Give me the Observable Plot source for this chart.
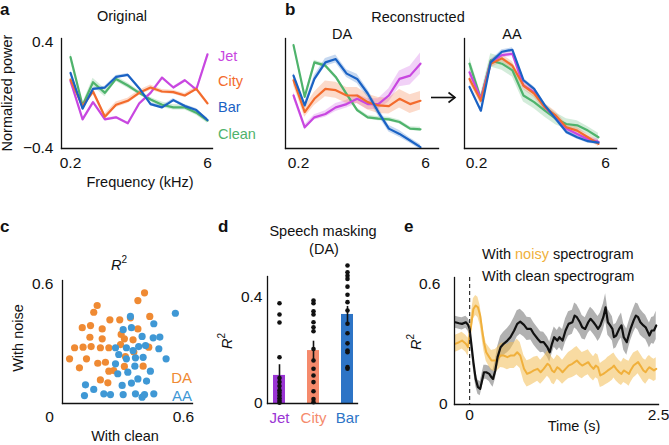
<!DOCTYPE html>
<html><head><meta charset="utf-8">
<script src="https://cdn.jsdelivr.net/npm/d3@7"></script>
<script src="https://cdn.jsdelivr.net/npm/@observablehq/plot@0.6"></script>
<style>
body{margin:0;background:#fff;}
#fig{position:relative;width:669px;height:445px;overflow:hidden;background:#fff;}
</style></head><body><div id="fig"></div>
<script>
const FONT = '"Liberation Sans", Arial, Helvetica, sans-serif';

// ---------- data ----------
const freqKHz = [0.2, 0.27, 0.35, 0.47, 0.62, 0.83, 1.1, 1.46, 1.94, 2.57, 3.42, 4.54, 6];
const freqTicks = [0.2, 6];
const noiseNames = ["Jet", "City", "Bar", "Clean"];
const noiseColors = ["#c847e0", "#f36b2c", "#1a62c4", "#4fb36c"];

// a: original
const origJet   = [0.11, -0.18, -0.05, -0.18, -0.165, -0.21, -0.06, 0.02, 0.135, 0.06, 0.115, 0.045, 0.31];
const origCity  = [0.12, -0.08, 0.03, -0.16, -0.07, -0.04, 0.02, 0.06, 0.03, 0.025, 0.0, 0.05, -0.06];
const origBar   = [0.17, -0.1, 0.05, 0.06, 0.14, 0.155, 0.055, -0.065, -0.09, -0.035, -0.08, -0.11, -0.185];
const origClean = [0.29, -0.075, 0.1, 0.02, 0.125, 0.075, 0.02, -0.03, -0.07, -0.09, -0.09, -0.13, -0.19];
const origJetSem   = [0.008, 0.008, 0.008, 0.008, 0.008, 0.008, 0.008, 0.008, 0.008, 0.008, 0.008, 0.008, 0.01];
const origCitySem  = [0.015, 0.02, 0.02, 0.02, 0.02, 0.02, 0.02, 0.02, 0.015, 0.015, 0.015, 0.015, 0.015];
const origBarSem   = [0.012, 0.01, 0.01, 0.01, 0.01, 0.01, 0.01, 0.012, 0.012, 0.012, 0.012, 0.012, 0.012];
const origCleanSem = [0.03, 0.015, 0.03, 0.03, 0.02, 0.02, 0.015, 0.015, 0.02, 0.02, 0.02, 0.02, 0.02];

// b: reconstructed DA
const daJet   = [0.0, -0.24, -0.165, -0.14, -0.09, -0.065, -0.025, -0.065, -0.065, 0.0, 0.125, 0.15, 0.24];
const daCity  = [0.115, -0.125, -0.025, 0.05, 0.04, 0.0, 0.0, -0.05, -0.075, -0.08, -0.025, -0.065, -0.04];
const daBar   = [0.15, -0.075, 0.125, 0.25, 0.275, 0.165, 0.125, 0.015, -0.125, -0.25, -0.29, -0.34, -0.39];
const daClean = [0.38, -0.01, 0.25, 0.225, 0.14, 0.01, -0.11, -0.165, -0.175, -0.18, -0.2, -0.25, -0.255];
const daJetSem   = [0.025, 0.02, 0.02, 0.025, 0.03, 0.03, 0.035, 0.04, 0.04, 0.05, 0.06, 0.07, 0.08];
const daCitySem  = [0.04, 0.04, 0.05, 0.06, 0.06, 0.06, 0.06, 0.06, 0.06, 0.06, 0.07, 0.07, 0.07];
const daBarSem   = [0.02, 0.02, 0.025, 0.03, 0.03, 0.03, 0.035, 0.03, 0.03, 0.025, 0.025, 0.02, 0.02];
const daCleanSem = [0.015, 0.015, 0.015, 0.015, 0.015, 0.015, 0.015, 0.015, 0.015, 0.015, 0.015, 0.015, 0.015];

// b: reconstructed AA
const aaJet   = [0.175, -0.025, 0.25, 0.305, 0.315, 0.075, 0.025, -0.09, -0.165, -0.25, -0.29, -0.33, -0.35];
const aaCity  = [0.125, -0.04, 0.24, 0.28, 0.225, 0.075, 0.015, -0.09, -0.15, -0.24, -0.265, -0.315, -0.365];
const aaBar   = [0.065, -0.115, 0.25, 0.33, 0.345, 0.115, 0.05, -0.075, -0.175, -0.275, -0.315, -0.345, -0.355];
const aaClean = [0.24, -0.025, 0.265, 0.24, 0.19, 0.0, -0.05, -0.115, -0.175, -0.215, -0.225, -0.265, -0.315];
const aaJetSem   = [0.02, 0.02, 0.02, 0.02, 0.02, 0.02, 0.02, 0.02, 0.02, 0.02, 0.02, 0.02, 0.02];
const aaCitySem  = [0.03, 0.03, 0.03, 0.03, 0.03, 0.03, 0.03, 0.03, 0.03, 0.025, 0.025, 0.02, 0.02];
const aaBarSem   = [0.015, 0.015, 0.015, 0.015, 0.015, 0.015, 0.015, 0.015, 0.015, 0.015, 0.015, 0.015, 0.015];
const aaCleanSem = [0.05, 0.04, 0.05, 0.05, 0.05, 0.05, 0.05, 0.05, 0.045, 0.04, 0.035, 0.03, 0.03];

// c: R2 scatter
const daWithClean = [0.407,0.374,0.172,0.155,0.235,0.284,0.337,0.433,0.098,0.139,0.197,0.291,0.374,0.136,0.197,0.307,0.350,0.060,0.102,0.142,0.188,0.230,0.288,0.428,0.035,0.084,0.119,0.175,0.213,0.312,0.354,0.254,0.230,0.307,0.400,0.188,0.225];
const daWithNoise = [0.558,0.519,0.494,0.460,0.422,0.422,0.432,0.439,0.382,0.393,0.376,0.348,0.376,0.334,0.326,0.326,0.321,0.281,0.284,0.287,0.281,0.281,0.297,0.284,0.225,0.180,0.225,0.203,0.208,0.237,0.259,0.166,0.163,0.187,0.188,0.119,0.104];
const aaWithClean = [0.560,0.337,0.453,0.342,0.301,0.395,0.450,0.483,0.263,0.317,0.378,0.412,0.478,0.350,0.279,0.317,0.362,0.400,0.514,0.263,0.359,0.324,0.274,0.436,0.374,0.417,0.342,0.296,0.114,0.155,0.205,0.238,0.301,0.362,0.407,0.453,0.109,0.395];
const aaWithNoise = [0.455,0.439,0.402,0.382,0.372,0.338,0.331,0.335,0.281,0.281,0.287,0.292,0.276,0.267,0.247,0.225,0.230,0.233,0.225,0.200,0.188,0.158,0.150,0.163,0.124,0.113,0.103,0.091,0.094,0.071,0.049,0.045,0.045,0.049,0.045,0.049,0.040,0.032];

// d: speech masking
const maskCats = ["Jet", "City", "Bar"];
const maskMeans = [0.105, 0.198, 0.333];
const maskSems = [0.04, 0.035, 0.03];
const maskColors = ["#9a35d4", "#f58a6c", "#2d74c6"];
const jetR2  = [0.375,0.333,0.303,0.173,0.095,0.08,0.065,0.05,0.04,0.03,0.02,0.01,0.003];
const cityR2 = [0.385,0.375,0.345,0.333,0.304,0.285,0.27,0.204,0.161,0.13,0.105,0.08,0.046,0.017,0.005];
const barR2  = [0.516,0.491,0.478,0.466,0.437,0.407,0.379,0.348,0.298,0.263,0.225,0.198,0.192,0.136,0.13];

// e: time course
const timeS = [-0.19,-0.14,-0.10,-0.05,-0.02,0.00,0.02,0.05,0.08,0.11,0.14,0.17,0.19,0.22,0.26,0.29,0.31,0.34,0.37,0.41,0.45,0.50,0.54,0.59,0.63,0.67,0.72,0.76,0.81,0.85,0.90,0.94,0.98,1.03,1.06,1.09,1.12,1.16,1.19,1.23,1.27,1.31,1.36,1.39,1.42,1.46,1.49,1.53,1.57,1.60,1.64,1.67,1.70,1.73,1.77,1.80,1.83,1.86,1.89,1.91,1.94,1.98,2.01,2.04,2.08,2.11,2.13,2.17,2.20,2.23,2.26,2.30,2.33,2.36,2.38,2.41,2.44,2.47];
const r2Clean = [0.408,0.403,0.400,0.408,0.395,0.375,0.309,0.210,0.127,0.086,0.078,0.127,0.160,0.160,0.152,0.135,0.127,0.169,0.235,0.284,0.301,0.317,0.334,0.367,0.400,0.411,0.395,0.375,0.375,0.350,0.326,0.309,0.309,0.284,0.259,0.301,0.334,0.317,0.334,0.317,0.367,0.400,0.408,0.441,0.433,0.408,0.383,0.375,0.408,0.425,0.408,0.392,0.375,0.392,0.433,0.482,0.408,0.392,0.375,0.334,0.342,0.375,0.392,0.334,0.309,0.350,0.375,0.416,0.441,0.433,0.408,0.392,0.383,0.359,0.342,0.367,0.367,0.392];
const r2Noisy = [0.301,0.309,0.317,0.301,0.284,0.342,0.392,0.474,0.491,0.482,0.441,0.359,0.309,0.259,0.235,0.218,0.218,0.218,0.226,0.243,0.243,0.235,0.243,0.243,0.259,0.243,0.177,0.152,0.160,0.169,0.177,0.160,0.177,0.202,0.193,0.169,0.160,0.185,0.177,0.160,0.177,0.193,0.202,0.210,0.218,0.202,0.193,0.202,0.210,0.193,0.177,0.193,0.185,0.144,0.152,0.160,0.169,0.177,0.185,0.193,0.177,0.160,0.152,0.169,0.160,0.152,0.169,0.193,0.202,0.210,0.193,0.169,0.160,0.177,0.185,0.177,0.169,0.177];
const semClean = [0.03,0.03,0.03,0.03,0.032,0.035,0.035,0.035,0.035,0.035,0.035,0.035,0.035,0.035,0.038,0.04,0.042,0.045,0.05,0.055,0.058,0.06,0.062,0.065,0.065,0.062,0.06,0.058,0.055,0.055,0.055,0.052,0.05,0.05,0.05,0.05,0.05,0.05,0.052,0.055,0.058,0.06,0.06,0.062,0.062,0.06,0.058,0.055,0.055,0.058,0.06,0.06,0.062,0.062,0.065,0.068,0.065,0.062,0.06,0.06,0.06,0.06,0.062,0.065,0.065,0.062,0.06,0.06,0.062,0.065,0.065,0.062,0.06,0.06,0.062,0.065,0.068,0.07];
const semNoisy = [0.042,0.042,0.042,0.042,0.045,0.048,0.05,0.05,0.05,0.05,0.048,0.045,0.045,0.045,0.048,0.05,0.052,0.055,0.058,0.06,0.062,0.062,0.065,0.065,0.065,0.065,0.065,0.065,0.065,0.065,0.062,0.06,0.06,0.062,0.065,0.065,0.062,0.06,0.06,0.06,0.062,0.065,0.068,0.07,0.07,0.068,0.065,0.062,0.062,0.062,0.06,0.06,0.06,0.06,0.062,0.062,0.065,0.065,0.065,0.062,0.06,0.058,0.058,0.06,0.06,0.062,0.062,0.062,0.06,0.058,0.058,0.058,0.06,0.06,0.058,0.055,0.055,0.055];

// ---------- helpers ----------
const fig = document.getElementById("fig");
const plotStyle = {background: "transparent", overflow: "visible", fontFamily: FONT, fontSize: "15px", color: "#111"};
const fmt = d => (d < 0 ? "\u2212" : "") + String(Math.abs(d));
const TICKFS = 15.5;
function place(svg, left, top) {
  svg.style.position = "absolute";
  svg.style.left = left + "px";
  svg.style.top = top + "px";
  fig.appendChild(svg);
}
const AXC = "#111";
function axesLines() {
  return [Plot.frame({anchor: "left", stroke: AXC, strokeWidth: 1.3}), Plot.frame({anchor: "bottom", stroke: AXC, strokeWidth: 1.3})];
}
function yTicksMark(ticks, pad) {
  return Plot.axisY({ticks, tickSize: 0, tickPadding: pad, tickFormat: fmt, fontSize: TICKFS, label: null});
}
function xTickText(ticks, dy, dx = 0) {
  return Plot.text(ticks, {x: d => d, text: d => fmt(d), frameAnchor: "bottom", lineAnchor: "middle", dy, dx, fontSize: TICKFS, fill: "#111"});
}

function spectrumPanel({sets, left, top, width, height, ml, mr, xDomain, yTicks, xDx}) {
  const series = sets.map(([vals, sems], k) => ({
    color: noiseColors[k],
    rows: vals.map((v, i) => ({f: freqKHz[i], v, lo: v - sems[i], hi: v + sems[i]}))
  }));
  const order = [3, 0, 1, 2];
  const marks = [];
  for (const k of order) marks.push(Plot.areaY(series[k].rows, {x: "f", y1: "lo", y2: "hi", fill: series[k].color, fillOpacity: 0.25}));
  for (const k of order) marks.push(Plot.lineY(series[k].rows, {x: "f", y: "v", stroke: series[k].color, strokeWidth: 2.2}));
  marks.push(...axesLines());
  if (yTicks) marks.push(yTicksMark(yTicks, 8));
  marks.push(xTickText(freqTicks, 14.5, xDx));
  const svg = Plot.plot({
    width, height, marginLeft: ml, marginRight: mr, marginTop: 38, marginBottom: 27,
    x: {type: "log", domain: xDomain, axis: null},
    y: {domain: [-0.4, 0.43], axis: null},
    style: plotStyle,
    marks
  });
  place(svg, left, top);
}

// ---------- panel a ----------
spectrumPanel({
  sets: [[origJet, origJetSem], [origCity, origCitySem], [origBar, origBarSem], [origClean, origCleanSem]],
  left: 0, top: 0, width: 230, height: 175, ml: 61, mr: 18,
  xDomain: [0.16, 6.79], yTicks: [-0.4, 0.4], xDx: 0
});
// ---------- panel b DA ----------
spectrumPanel({
  sets: [[daJet, daJetSem], [daCity, daCitySem], [daBar, daBarSem], [daClean, daCleanSem]],
  left: 270, top: 0, width: 180, height: 175, ml: 15, mr: 12,
  xDomain: [0.1614, 9.72], yTicks: null, xDx: 5
});
// ---------- panel b AA ----------
spectrumPanel({
  sets: [[aaJet, aaJetSem], [aaCity, aaCitySem], [aaBar, aaBarSem], [aaClean, aaCleanSem]],
  left: 450, top: 0, width: 200, height: 175, ml: 14, mr: 34,
  xDomain: [0.1753, 9.65], yTicks: null, xDx: 7
});

// ---------- panel c ----------
{
  const da = daWithClean.map((x, i) => ({x, y: daWithNoise[i]}));
  const aa = aaWithClean.map((x, i) => ({x, y: aaWithNoise[i]}));
  const svg = Plot.plot({
    width: 210, height: 160, marginLeft: 62, marginRight: 18, marginTop: 15, marginBottom: 22,
    x: {domain: [0, 0.645], axis: null}, y: {domain: [0, 0.62], axis: null},
    style: plotStyle,
    marks: [
      Plot.dot(da, {x: "x", y: "y", r: 3.6, fill: "#ef8a33"}),
      Plot.dot(aa, {x: "x", y: "y", r: 3.6, fill: "#3f98d5"}),
      ...axesLines(),
      yTicksMark([0.6], 9),
      xTickText([0.6], 13.5),
      xTickText([0], 13.5, -13)
    ]
  });
  place(svg, 0, 265);
}

// ---------- panel d ----------
{
  const bars = maskCats.map((cat, i) => ({cat, mean: maskMeans[i], sem: maskSems[i], color: maskColors[i]}));
  const dots = [
    ...jetR2.map(v => ({cat: "Jet", v})),
    ...cityR2.map(v => ({cat: "City", v})),
    ...barR2.map(v => ({cat: "Bar", v}))
  ];
  const svg = Plot.plot({
    width: 170, height: 170, marginLeft: 67, marginRight: 13, marginTop: 16, marginBottom: 27,
    x: {type: "band", domain: maskCats, range: [71.7, 153.7], paddingInner: 0.64, paddingOuter: 0, axis: null},
    y: {domain: [0, 0.475], axis: null},
    color: {type: "identity"},
    style: plotStyle,
    marks: [
      Plot.barY(bars, {x: "cat", y: "mean", fill: "color"}),
      Plot.ruleX(bars, {x: "cat", y1: d => d.mean - d.sem, y2: d => d.mean + d.sem, stroke: "#111", strokeWidth: 1.6}),
      Plot.dot(dots, {x: "cat", y: "v", r: 2.3, fill: "#111"}),
      ...axesLines(),
      yTicksMark([0, 0.4], 5),
      Plot.text(bars, {x: "cat", text: "cat", fill: "color", frameAnchor: "bottom", lineAnchor: "middle", dy: 15, fontSize: 15})
    ]
  });
  place(svg, 200, 260);
}

// ---------- panel e ----------
{
  const rows = timeS.map((t, i) => ({
    t, c: r2Clean[i], n: r2Noisy[i],
    cLo: r2Clean[i] - semClean[i], cHi: r2Clean[i] + semClean[i],
    nLo: r2Noisy[i] - semNoisy[i], nHi: r2Noisy[i] + semNoisy[i]
  }));
  const svg = Plot.plot({
    width: 249, height: 190, marginLeft: 34, marginRight: 11, marginTop: 27, marginBottom: 36,
    x: {domain: [-0.2, 2.5], axis: null}, y: {domain: [0, 0.63], axis: null},
    style: plotStyle,
    marks: [
      Plot.areaY(rows, {x: "t", y1: "cLo", y2: "cHi", fill: "#7d7d7d", fillOpacity: 0.6}),
      Plot.areaY(rows, {x: "t", y1: "nLo", y2: "nHi", fill: "#f3bd55", fillOpacity: 0.55}),
      Plot.lineY(rows, {x: "t", y: "n", stroke: "#f0b03c", strokeWidth: 2}),
      Plot.lineY(rows, {x: "t", y: "c", stroke: "#111", strokeWidth: 2.2}),
      Plot.ruleX([0], {stroke: "#333", strokeWidth: 1.2, strokeDasharray: "4,3"}),
      ...axesLines(),
      yTicksMark([0.6], 14),
      yTicksMark([0], 7),
      xTickText([0, 2.5], 10.5)
    ]
  });
  place(svg, 420, 250);
}

// ---------- annotation overlay ----------
const ov = d3.select(fig).append("svg")
  .attr("width", 669).attr("height", 445)
  .style("position", "absolute").style("left", "0px").style("top", "0px")
  .style("font-family", FONT).style("overflow", "visible");

function txt(str, x, y, o = {}) {
  const t = ov.append("text")
    .attr("x", x).attr("y", y)
    .attr("text-anchor", o.anchor || "middle")
    .attr("dominant-baseline", o.baseline || "central")
    .attr("font-size", o.size || 14.5)
    .attr("font-weight", o.weight || "normal")
    .attr("fill", o.fill || "#111");
  if (o.rotate) t.attr("transform", `rotate(${o.rotate},${x},${y})`);
  if (str != null) t.text(str);
  return t;
}
function r2(x, y, o = {}) {
  const t = txt(null, x, y, o);
  t.append("tspan").attr("font-style", "italic").text("R");
  t.append("tspan").attr("font-size", 10).attr("dy", -6).text("2");
  return t;
}

// panel letters
txt("a", 0, 15, {anchor: "start", baseline: "alphabetic", size: 17, weight: "bold"});
txt("b", 285, 15, {anchor: "start", baseline: "alphabetic", size: 17, weight: "bold"});
txt("c", 0, 232, {anchor: "start", baseline: "alphabetic", size: 17, weight: "bold"});
txt("d", 218, 232, {anchor: "start", baseline: "alphabetic", size: 17, weight: "bold"});
txt("e", 404, 232, {anchor: "start", baseline: "alphabetic", size: 17, weight: "bold"});

// a
txt("Original", 122, 16);
txt("Normalized power", 6.5, 93, {rotate: -90});
txt("Frequency (kHz)", 140, 182);
const legY = [55.5, 80.5, 107, 133.5];
noiseNames.forEach((n, i) => txt(n, 218, legY[i], {anchor: "start", fill: noiseColors[i]}));

// b
txt("Reconstructed", 418, 16.5);
txt("DA", 342, 33.5);
txt("AA", 512, 33.5);
ov.append("line").attr("x1", 431).attr("x2", 455).attr("y1", 97.5).attr("y2", 97.5)
  .attr("stroke", "#111").attr("stroke-width", 1.6);
ov.append("polyline").attr("points", "448.5,92.5 455,97.5 448.5,102.5")
  .attr("fill", "none").attr("stroke", "#111").attr("stroke-width", 1.6);

// c
r2(119, 265);
txt("With noise", 18, 338, {rotate: -90});
txt("With clean", 125, 435.5);
txt("DA", 192, 377, {anchor: "end", fill: "#ef8a33", size: 15});
txt("AA", 192, 395.5, {anchor: "end", fill: "#3f98d5", size: 15});

// d
txt("Speech masking", 323, 230.5);
txt("(DA)", 324, 248.5);
r2(227, 341, {rotate: -90});

// e
{
  const t = txt(null, 482, 253.5, {anchor: "start"});
  t.append("tspan").text("With ");
  t.append("tspan").attr("fill", "#f0b03c").text("noisy");
  t.append("tspan").text(" spectrogram");
}
txt("With clean spectrogram", 482, 275.5, {anchor: "start"});
txt("Time (s)", 574, 426);
r2(416, 342, {rotate: -90});
</script>
</body></html>
